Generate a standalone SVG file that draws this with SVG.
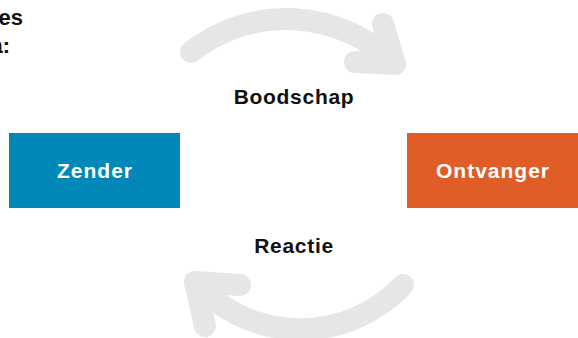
<svg xmlns="http://www.w3.org/2000/svg" width="578" height="338" viewBox="0 0 578 338">
<style>
.arrow{fill:none;stroke:#e6e6e6;stroke-width:22;stroke-linecap:round;stroke-linejoin:round}
.lbl{font-family:"Liberation Sans",Arial,sans-serif;font-weight:bold;font-size:21px;letter-spacing:0.7px;fill:#111;text-anchor:middle}
.nodetext{font-family:"Liberation Sans",Arial,sans-serif;font-weight:bold;font-size:21px;letter-spacing:1px;fill:#fff;text-anchor:middle}
.head{font-family:"Liberation Sans",Arial,sans-serif;font-weight:bold;font-size:22px;fill:#111;text-anchor:end}
</style>
<rect width="578" height="338" fill="#fff"/>
<g id="heading">
<text class="head" x="23" y="25">es</text>
<text class="head" x="10" y="53">a:</text>
</g>
<g id="connectors">
<g id="boodschap-arrow">
<path class="arrow" d="M191 52 A153.8 153.8 0 0 1 395 64"/>
<path class="arrow" d="M383 24 L395 64 L355 62"/>
</g>
<g id="reactie-arrow">
<path class="arrow" d="M403 285 A140.9 140.9 0 0 1 195 282"/>
<path class="arrow" d="M240 285 L195 282 L205 326"/>
</g>
<text class="lbl" x="294" y="104">Boodschap</text>
<text class="lbl" x="294" y="253">Reactie</text>
</g>
<g id="zender">
<rect x="9" y="133" width="171" height="75" fill="#0088b8"/>
<text class="nodetext" x="95" y="178">Zender</text>
</g>
<g id="ontvanger">
<rect x="407" y="133" width="171" height="75" fill="#e05d27"/>
<text class="nodetext" x="493" y="178">Ontvanger</text>
</g>
</svg>
